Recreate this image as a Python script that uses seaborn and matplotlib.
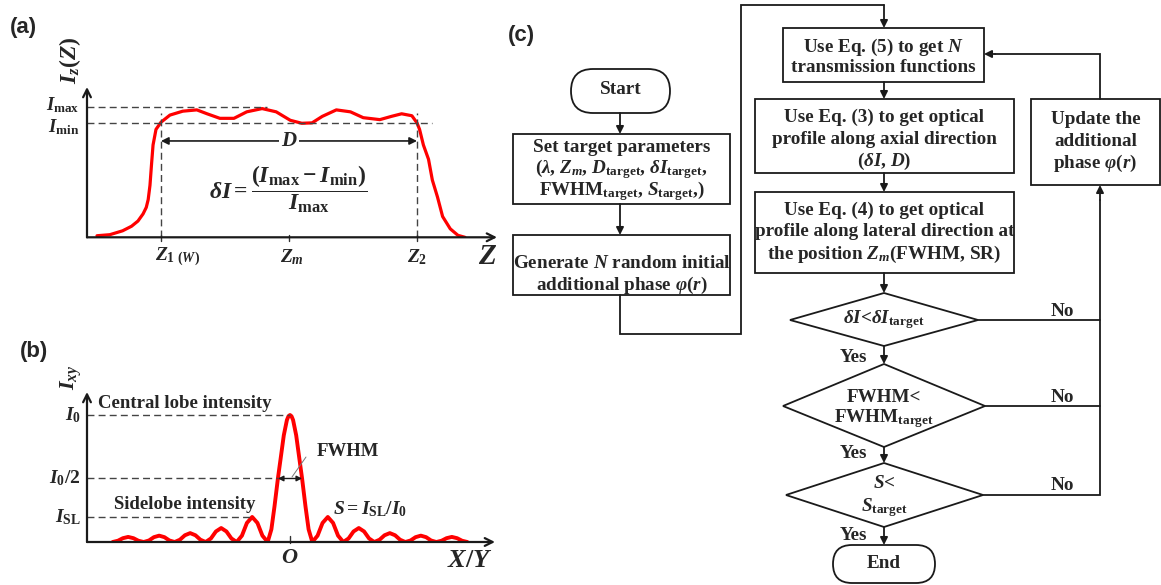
import matplotlib
matplotlib.use("Agg")
import matplotlib.pyplot as plt
import seaborn as sns
from matplotlib.patches import Rectangle, Polygon, FancyBboxPatch

# ---- panel (a): axial profile, Z in units where Z1 = 1, Zm = 2, Z2 = 3 ----
z_axial = [0.50, 0.60, 0.70, 0.77, 0.82, 0.86, 0.885, 0.90, 0.914, 0.926, 0.938, 0.961,
           1.00, 1.07, 1.17, 1.28, 1.36, 1.46, 1.57, 1.67, 1.79, 1.90, 2.01, 2.10,
           2.18, 2.26, 2.37, 2.48, 2.58, 2.71, 2.80, 2.88, 2.96, 3.00, 3.02, 3.05,
           3.09, 3.12, 3.16, 3.20, 3.26, 3.32, 3.375]
i_axial = [0.012, 0.02, 0.05, 0.085, 0.125, 0.18, 0.23, 0.29, 0.40, 0.56, 0.71, 0.83,
           0.885, 0.94, 0.97, 0.98, 0.95, 0.915, 0.915, 0.965, 0.99, 0.965, 0.90, 0.877,
           0.88, 0.93, 0.98, 0.965, 0.92, 0.905, 0.93, 0.95, 0.935, 0.88, 0.83, 0.71,
           0.60, 0.44, 0.31, 0.16, 0.065, 0.015, 0.0]
I_MAX, I_MIN = 1.0, 0.877
z_marks = [1.0, 2.0, 3.0]
z_labels = [r'$Z_{1\ (W)}$', r'$Z_m$', r'$Z_2$']

# ---- panel (b): lateral profile, intensity relative to I0 ----
x_lateral = [-5.72, -5.55, -5.39, -5.22, -5.05, -4.89,
             -4.72, -4.55, -4.39, -4.22, -4.05, -3.89,
             -3.72, -3.55, -3.39, -3.22, -3.05, -2.89,
             -2.72, -2.55, -2.39, -2.22, -2.05, -1.89,
             -1.72, -1.55, -1.39, -1.22, -1.05, -0.89,
             -0.72, -0.60, -0.50, -0.39, -0.30, -0.20, -0.10, -0.05, 0.00,
             0.05, 0.10, 0.20, 0.30, 0.39, 0.50, 0.60,
             0.72, 0.89, 1.05, 1.22, 1.39, 1.55,
             1.72, 1.89, 2.05, 2.22, 2.39, 2.55,
             2.72, 2.89, 3.05, 3.22, 3.39, 3.55,
             3.72, 3.89, 4.05, 4.22, 4.39, 4.55,
             4.72, 4.89, 5.05, 5.22, 5.39, 5.55, 5.72]
i_lateral = [0.0, 0.010, 0.030, 0.040, 0.030, 0.010,
             0.0, 0.012, 0.038, 0.050, 0.038, 0.012,
             0.0, 0.018, 0.053, 0.070, 0.053, 0.018,
             0.0, 0.028, 0.083, 0.110, 0.083, 0.028,
             0.0, 0.050, 0.150, 0.197, 0.150, 0.050,
             0.0, 0.10, 0.28, 0.50, 0.66, 0.84, 0.96, 0.99, 1.00,
             0.99, 0.96, 0.84, 0.66, 0.50, 0.28, 0.10,
             0.0, 0.050, 0.150, 0.197, 0.150, 0.050,
             0.0, 0.028, 0.083, 0.110, 0.083, 0.028,
             0.0, 0.018, 0.053, 0.070, 0.053, 0.018,
             0.0, 0.012, 0.038, 0.050, 0.038, 0.012,
             0.0, 0.010, 0.030, 0.040, 0.030, 0.010, 0.0]
I_SL = 0.197
X_HALF = 0.39

sns.set_theme(style="white")
plt.rcParams['font.family'] = ['Liberation Serif', 'DejaVu Serif']
plt.rcParams['font.weight'] = 'bold'
plt.rcParams['mathtext.fontset'] = 'custom'
plt.rcParams['mathtext.rm'] = 'Liberation Serif:bold'
plt.rcParams['mathtext.it'] = 'Liberation Serif:italic:bold'
plt.rcParams['mathtext.bf'] = 'Liberation Serif:bold'

W, H = 1161, 585
fig = plt.figure(figsize=(W / 100, H / 100), dpi=100)
fig.patch.set_facecolor('white')

# overlay axes in pixel units for the flowchart and panel letters
fc = fig.add_axes([0, 0, 1, 1])
fc.set_xlim(0, W)
fc.set_ylim(H, 0)
fc.axis('off')


def px_axes(left, top, right, bottom):
    return fig.add_axes([left / W, 1 - bottom / H, (right - left) / W, (bottom - top) / H])


def axis_arrows(ax):
    kw = dict(arrowstyle='->', lw=1.6, color='k', shrinkA=0, shrinkB=0, mutation_scale=14)
    ax.annotate('', xy=(1, 0), xytext=(0, 0), xycoords='axes fraction', arrowprops=kw)
    ax.annotate('', xy=(0, 1), xytext=(0, 0), xycoords='axes fraction', arrowprops=kw)


dash = dict(color='#444444', lw=1.0, ls=(0, (5, 3)))

# ---------------- panel (a) ----------------
axa = px_axes(87, 87, 497, 237.3)
sns.lineplot(x=z_axial, y=i_axial, ax=axa, color='#ff0000', lw=2.3,
             estimator=None, sort=False)
axa.set_xlim(0.422, 3.625)
axa.set_ylim(0, 1.156)
axa.axis('off')
axis_arrows(axa)
axa.plot([0.422, 1.83], [I_MAX, I_MAX], **dash)
axa.plot([0.422, 3.117], [I_MIN, I_MIN], **dash)
for zv in (z_marks[0], z_marks[2]):
    axa.plot([zv, zv], [0, 0.956], **dash)
for zv in z_marks:
    axa.plot([zv, zv], [-0.025, 0.02], color='#333333', lw=1.0, clip_on=False)
for zv, lab, ha in zip(z_marks, z_labels, ['left', 'center', 'center']):
    axa.text(zv - (0.05 if ha == 'left' else 0.0) + (0.02 if lab == z_labels[1] else 0),
             -0.15, lab, fontsize=14, ha=ha, va='center')
axa.text(3.555, -0.145, r'$Z$', fontsize=21, ha='center', va='center')
axa.text(0.36, I_MAX + 0.015, r'$I_{\mathrm{max}}$', fontsize=13.5, ha='right', va='center')
axa.text(0.36, I_MIN - 0.03, r'$I_{\mathrm{min}}$', fontsize=13.5, ha='right', va='center')
axa.text(0.29, 1.36, r'$I_z(Z)$', fontsize=17, ha='center', va='center', rotation=90)
axa.annotate('', xy=(3.0, 0.741), xytext=(1.0, 0.741),
             arrowprops=dict(arrowstyle='<|-|>', lw=1.2, color='k', shrinkA=0, shrinkB=0,
                             mutation_scale=11))
axa.text(2.0, 0.741, r'$D$', fontsize=15, ha='center', va='center',
         bbox=dict(fc='white', ec='none', pad=1))
axa.text(1.99, 0.37, r'$\delta I = \dfrac{(I_{\mathrm{max}} - I_{\mathrm{min}})}{I_{\mathrm{max}}}$',
         fontsize=17, ha='center', va='center')

# ---------------- panel (b) ----------------
axb = px_axes(87, 392, 495, 542)
sns.lineplot(x=x_lateral, y=i_lateral, ax=axb, color='#ff0000', lw=2.8,
             estimator=None, sort=False)
axb.set_xlim(-6.548, 6.613)
axb.set_ylim(0, 1.181)
axb.axis('off')
axis_arrows(axb)
axb.plot([-6.548, 0.0], [1.0, 1.0], **dash)
axb.plot([-6.548, -X_HALF], [0.5, 0.5], **dash)
axb.plot([-6.548, -1.29], [I_SL, I_SL], **dash)
axb.plot([0, 0], [-0.01, 0.05], color='#333333', lw=1.0, clip_on=False)
axb.annotate('', xy=(X_HALF, 0.5), xytext=(-X_HALF, 0.5),
             arrowprops=dict(arrowstyle='<|-|>', lw=1.0, color='k', shrinkA=0, shrinkB=0,
                             mutation_scale=8))
axb.plot([0.516, 0.065], [0.669, 0.512], color='#777777', lw=0.7)
axb.text(-6.19, 1.094, 'Central lobe intensity', fontsize=13.5, ha='left', va='center')
axb.text(-6.75, 1.0, r'$I_0$', fontsize=14, ha='right', va='center')
axb.text(-6.75, 0.5, r'$I_0/2$', fontsize=14, ha='right', va='center')
axb.text(-6.75, I_SL, r'$I_{\mathrm{SL}}$', fontsize=14, ha='right', va='center')
axb.text(1.87, 0.709, 'FWHM', fontsize=13.5, ha='center', va='center')
axb.text(-3.39, 0.299, 'Sidelobe intensity', fontsize=13.5, ha='center', va='center')
axb.text(2.58, 0.262, r'$S = I_{\mathrm{SL}}/I_0$', fontsize=14, ha='center', va='center')
axb.text(0.0, -0.126, r'$O$', fontsize=16, ha='center', va='center')
axb.text(6.55, -0.142, r'$X/Y$', fontsize=19, ha='right', va='center')
axb.text(-7.06, 1.30, r'$I_{xy}$', fontsize=16, ha='center', va='center', rotation=90)

# ---------------- panel letters ----------------
for lx, ly, lab in [(23, 27, '(a)'), (34, 351, '(b)'), (521, 36, '(c)')]:
    fc.text(lx, ly, lab, fontsize=16, ha='center', va='center',
            family='Liberation Sans', weight='bold')

# ---------------- panel (c): flowchart ----------------
LW = 1.3
FS = 13.8


def box(x0, y0, x1, y1, lines, ys, fs=FS):
    fc.add_patch(Rectangle((x0, y0), x1 - x0, y1 - y0, fc='white', ec='k', lw=LW))
    for s, yy in zip(lines, ys):
        fc.text((x0 + x1) / 2, yy, s, fontsize=fs, ha='center', va='center')


def pill(x0, y0, x1, y1, label):
    r = (y1 - y0) / 2
    fc.add_patch(FancyBboxPatch((x0, y0), x1 - x0, y1 - y0,
                                boxstyle=f'round,pad=0,rounding_size={r}',
                                fc='white', ec='k', lw=LW))
    fc.text((x0 + x1) / 2, (y0 + y1) / 2 - 1, label, fontsize=FS, ha='center', va='center')


def diamond(cx, cy, left, right, top, bottom, lines, ys):
    fc.add_patch(Polygon([(left, cy), (cx, top), (right, cy), (cx, bottom)],
                         closed=True, fc='white', ec='k', lw=LW))
    for s, yy in zip(lines, ys):
        fc.text(cx, yy, s, fontsize=FS, ha='center', va='center')


def arrow(p0, p1):
    fc.annotate('', xy=p1, xytext=p0,
                arrowprops=dict(arrowstyle='-|>', lw=LW, color='k', shrinkA=0, shrinkB=0,
                                mutation_scale=11))


def poly(xs, ys):
    fc.plot(xs, ys, color='k', lw=LW, solid_joinstyle='miter')


pill(571, 69, 670, 113, 'Start')
arrow((620, 113), (620, 134))
box(513, 134, 730, 204,
    ['Set target parameters',
     r'$(\lambda$, $Z_m$, $D_{\mathrm{target}}$, $\delta I_{\mathrm{target}}$,',
     r'$\mathrm{FWHM}_{\mathrm{target}}$, $S_{\mathrm{target}}$,)'],
    [148, 169, 191])
arrow((620, 204), (620, 235))
box(513, 235, 730, 295,
    [r'Generate $N$ random initial', r'additional phase $\varphi(r)$'], [263, 285])
poly([620, 620, 741, 741, 884], [295, 334, 334, 5, 5])
arrow((884, 5), (884, 28))

box(783, 28, 984, 82, [r'Use Eq. (5) to get $N$', 'transmission functions'], [47, 68])
arrow((884, 82), (884, 99))
box(755, 99, 1014, 173,
    ['Use Eq. (3) to get optical', 'profile along axial direction', r'($\delta I$, $D$)'],
    [117, 139, 161])
arrow((884, 173), (884, 192))
box(755, 192, 1014, 273,
    ['Use Eq. (4) to get optical', 'profile along lateral direction at',
     r'the position $Z_m$(FWHM, SR)'],
    [210, 232, 254])
arrow((884, 273), (884, 293))

diamond(884, 320, 790, 978, 293, 346, [r'$\delta I$<$\delta I_{\mathrm{target}}$'], [320])
arrow((884, 346), (884, 364))
diamond(884, 406, 783, 985, 364, 447,
        ['FWHM<', r'$\mathrm{FWHM}_{\mathrm{target}}$'], [397, 419])
arrow((884, 447), (884, 463))
diamond(884, 495, 786, 983, 463, 527, [r'$S$<', r'$S_{\mathrm{target}}$'], [484, 508])
arrow((884, 527), (884, 545))
pill(833, 545, 935, 583, 'End')

for yy in (353, 449, 531):
    fc.text(853, yy + 4, 'Yes', fontsize=FS, ha='center', va='center')
for yy in (320, 406, 495):
    fc.text(1062, yy - 9, 'No', fontsize=FS, ha='center', va='center')

poly([978, 1100], [320, 320])
poly([985, 1100], [406, 406])
poly([983, 1100, 1100], [495, 495, 200])
arrow((1100, 200), (1100, 185))

box(1031, 99, 1160, 185, ['Update the', 'additional', r'phase $\varphi(r)$'], [120, 142, 163])
poly([1100, 1100, 995], [99, 54, 54])
arrow((995, 54), (984, 54))

fig.savefig('out.png', dpi=100, facecolor='white')
